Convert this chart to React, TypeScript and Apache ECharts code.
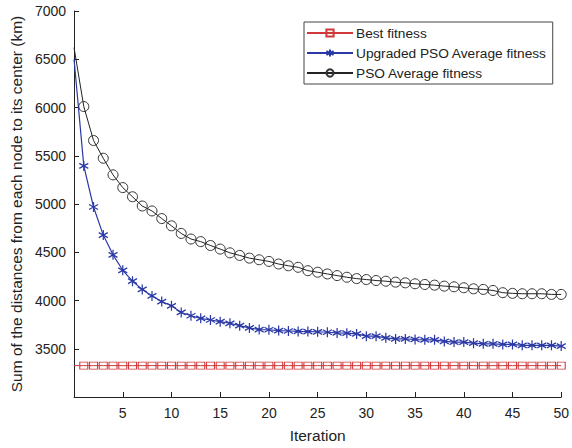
import React, { useEffect, useRef } from "react";
import * as echarts from "echarts";

const iterations = [0, 1, 2, 3, 4, 5, 6, 7, 8, 9, 10, 11, 12, 13, 14, 15, 16, 17, 18, 19, 20, 21, 22, 23, 24, 25, 26, 27, 28, 29, 30, 31, 32, 33, 34, 35, 36, 37, 38, 39, 40, 41, 42, 43, 44, 45, 46, 47, 48, 49, 50];

const bestFitness = [3325, 3325, 3325, 3325, 3325, 3325, 3325, 3325, 3325, 3325, 3325, 3325, 3325, 3325, 3325, 3325, 3325, 3325, 3325, 3325, 3325, 3325, 3325, 3325, 3325, 3325, 3325, 3325, 3325, 3325, 3325, 3325, 3325, 3325, 3325, 3325, 3325, 3325, 3325, 3325, 3325, 3325, 3325, 3325, 3325, 3325, 3325, 3325, 3325, 3325, 3325];

const upgradedPso = [6500, 5395, 4969, 4678, 4473, 4313, 4200, 4115, 4047, 3989, 3945, 3876, 3842, 3815, 3798, 3781, 3764, 3739, 3716, 3699, 3697, 3688, 3684, 3680, 3678, 3676, 3671, 3664, 3661, 3654, 3630, 3630, 3613, 3602, 3602, 3596, 3592, 3592, 3576, 3569, 3569, 3558, 3551, 3551, 3545, 3545, 3535, 3535, 3535, 3535, 3528];

const psoAverage = [6620, 6010, 5658, 5474, 5302, 5170, 5075, 4979, 4928, 4849, 4774, 4695, 4637, 4610, 4570, 4533, 4494, 4467, 4439, 4422, 4405, 4378, 4360, 4344, 4309, 4293, 4275, 4258, 4241, 4227, 4217, 4207, 4200, 4190, 4183, 4173, 4166, 4159, 4149, 4142, 4132, 4121, 4115, 4104, 4081, 4074, 4070, 4070, 4070, 4063, 4063];

const seriesNames = ["Best fitness", "Upgraded PSO Average fitness", "PSO Average fitness"];

const FONT = "'Liberation Sans', Arial, Helvetica, sans-serif";
const STAR = "path://M0,-5L0,5M-4.33,-2.5L4.33,2.5M-4.33,2.5L4.33,-2.5";

function toData(vals: number[]) {
  return iterations.map((x, i) =>
    i === 0 ? { value: [x, vals[i]], symbol: "none" } : { value: [x, vals[i]] }
  );
}

export default function App() {
  const ref = useRef<HTMLDivElement>(null);
  useEffect(() => {
    if (!ref.current) return;
    const chart = echarts.init(ref.current, null, { renderer: "svg" });
    chart.setOption({
      animation: false,
      backgroundColor: "#ffffff",
      textStyle: { fontFamily: FONT },
      grid: { left: 70, right: 7.5, top: 11, bottom: 48.5, containLabel: false },
      legend: {
        orient: "vertical",
        left: 304,
        top: 22,
        itemWidth: 46,
        itemHeight: 9,
        itemGap: 6,
        padding: [4, 6, 4, 2],
        borderColor: "#444",
        borderWidth: 1,
        backgroundColor: "#fff",
        borderRadius: 0,
        textStyle: { fontFamily: FONT, fontSize: 13.7, color: "#222", padding: [0, 0, 0, -2] },
        data: seriesNames,
      },
      xAxis: {
        type: "value",
        min: 0,
        max: 50,
        interval: 5,
        name: "Iteration",
        nameLocation: "middle",
        nameGap: 30,
        nameTextStyle: { fontFamily: FONT, fontSize: 15.5, color: "#222" },
        axisLine: { onZero: false, lineStyle: { color: "#222", width: 1 } },
        axisTick: { inside: true, length: 5, lineStyle: { color: "#222" } },
        axisLabel: {
          fontFamily: FONT,
          fontSize: 14,
          color: "#222",
          margin: 9,
          formatter: (v: number) => (v === 0 ? "" : String(v)),
        },
        splitLine: { show: false },
      },
      yAxis: {
        type: "value",
        min: 3000,
        max: 7000,
        interval: 500,
        name: "Sum of the distances from each node to its center (km)",
        nameLocation: "middle",
        nameGap: 45,
        nameTextStyle: { fontFamily: FONT, fontSize: 15.5, color: "#222" },
        axisLine: { show: true, onZero: false, lineStyle: { color: "#222", width: 1 } },
        axisTick: { inside: true, length: 5, lineStyle: { color: "#222" } },
        axisLabel: {
          fontFamily: FONT,
          fontSize: 14,
          color: "#222",
          margin: 8,
          formatter: (v: number) => (v === 3000 ? "" : String(v)),
        },
        splitLine: { show: false },
      },
      series: [
        {
          name: seriesNames[0],
          type: "line",
          data: toData(bestFitness),
          symbol: "rect",
          symbolSize: [8, 7],
          lineStyle: { color: "#d0393b", width: 1 },
          itemStyle: { color: "rgba(0,0,0,0)", borderColor: "#d0393b", borderWidth: 1 },
          z: 3,
        },
        {
          name: seriesNames[1],
          type: "line",
          data: toData(upgradedPso),
          symbol: STAR,
          symbolSize: [9, 10],
          lineStyle: { color: "#2b39a6", width: 1.2 },
          itemStyle: { color: "#2b39a6", borderColor: "#2b39a6", borderWidth: 1.3 },
          z: 4,
        },
        {
          name: seriesNames[2],
          type: "line",
          data: toData(psoAverage),
          symbol: "circle",
          symbolSize: 10,
          lineStyle: { color: "#222", width: 1 },
          itemStyle: { color: "rgba(0,0,0,0)", borderColor: "#333", borderWidth: 1 },
          z: 5,
        },
      ],
    });
    return () => chart.dispose();
  }, []);
  return (
    <div
      ref={ref}
      style={{ position: "fixed", left: 0, top: 0, width: 572, height: 448 }}
    />
  );
}
